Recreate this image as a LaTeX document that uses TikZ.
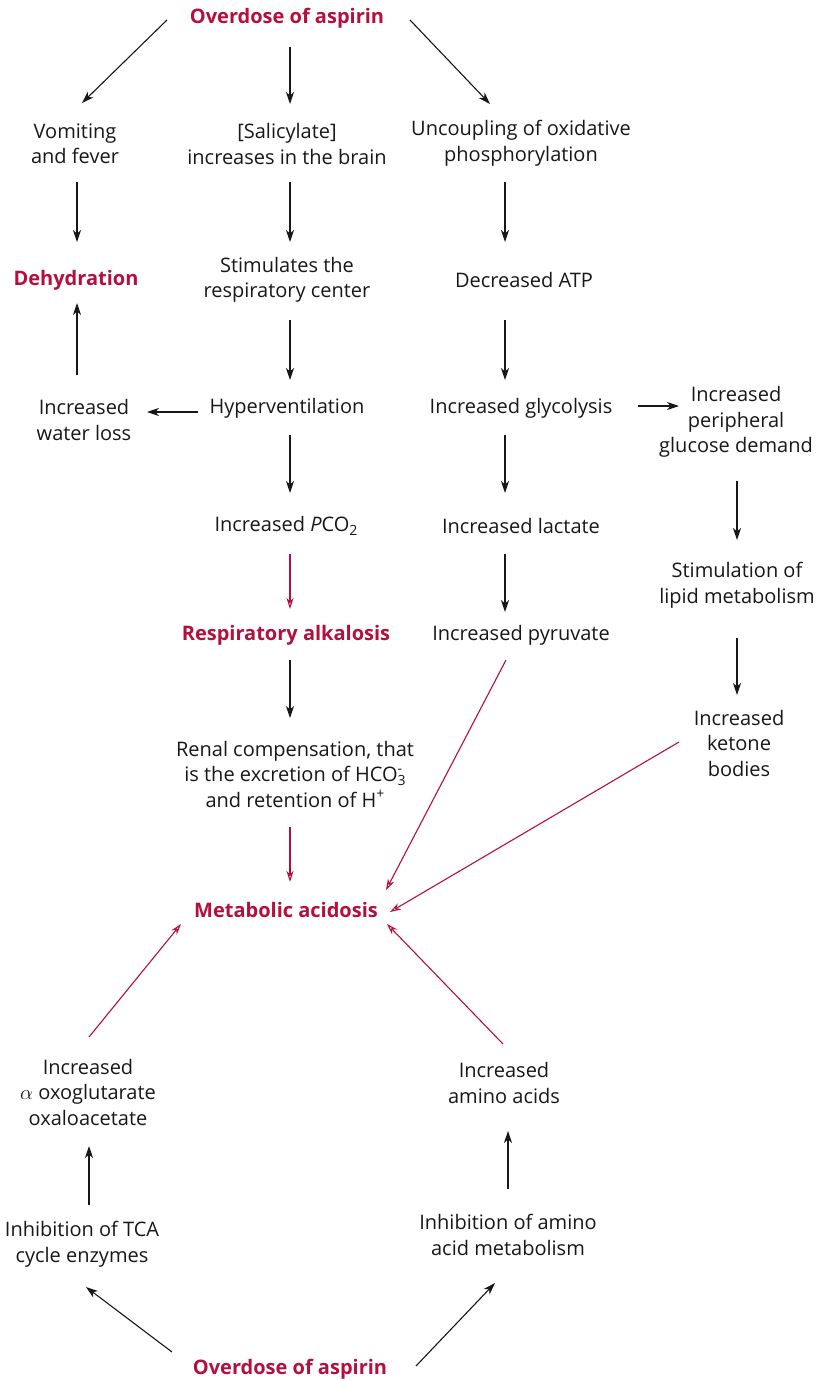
\documentclass[tikz,border=0pt]{standalone}
\usepackage{fontspec}
\setmainfont{Open Sans}
\usetikzlibrary{arrows.meta}
\definecolor{crim}{HTML}{B3103F}
\definecolor{ink}{HTML}{1A1718}
\newcommand\lo[1]{\raisebox{-0.35ex}{\fontsize{14}{14}\selectfont #1}}
\newcommand\hi[1]{\raisebox{0.75ex}{\fontsize{14}{14}\selectfont #1}}
\begin{document}
\begin{tikzpicture}[x=1pt,y=-1pt,
  txt/.style={text=ink,align=center,inner sep=0pt,font=\fontsize{20}{25.5}\selectfont},
  key/.style={text=crim,align=center,inner sep=0pt,font=\fontsize{20}{25.5}\selectfont\bfseries},
  blk/.style={draw=ink,line width=1.1pt,-{Stealth[length=12pt,width=8pt,inset=3.5pt]}},
  rd/.style={draw=crim,line width=1.1pt,-{Stealth[open,length=11pt,width=7pt,inset=3.5pt]}}]
\fill[white] (0,0) rectangle (827,1381);
\useasboundingbox (0,0) rectangle (827,1381);
% nodes
\node[key] (top) at (287,18) {Overdose of aspirin};
\node[txt] (vom) at (75,144) {Vomiting\\and fever};
\node[txt] (sal) at (287,144) {[Salicylate]\\increases in the brain};
\node[txt] (unc) at (521,143) {Uncoupling of oxidative\\phosphorylation};
\node[key] (deh) at (76,280) {Dehydration};
\node[txt] (sti) at (287,280) {Stimulates the\\respiratory center};
\node[txt] (atp) at (524,280) {Decreased ATP};
\node[txt] (wat) at (84,420) {Increased\\water loss};
\node[txt] (hyp) at (287,408) {Hyperventilation};
\node[txt] (gly) at (521,408) {Increased glycolysis};
\node[txt] (per) at (736,422) {Increased\\peripheral\\glucose demand};
\node[txt] (pco) at (286,526) {Increased \textit{P}CO\lo{2}};
\node[txt] (lac) at (521,526) {Increased lactate};
\node[txt] (lip) at (737,585) {Stimulation of\\lipid metabolism};
\node[key] (res) at (286,635) {Respiratory alkalosis};
\node[txt] (pyr) at (521,635) {Increased pyruvate};
\node[txt] (ket) at (739,743) {Increased\\ketone\\bodies};
\node[txt] (ren) at (295,774) {Renal compensation, that\\is the excretion of HCO\rlap{\hi{-}}\lo{3}\\and retention of H\hi{+}};
\node[key] (met) at (286,910) {Metabolic acidosis};
\node[txt] (alp) at (88,1092) {Increased\\$\alpha$ oxoglutarate\\oxaloacetate};
\node[txt] (ami) at (504,1083) {Increased\\amino acids};
\node[txt] (tca) at (82,1244) {Inhibition of TCA\\cycle enzymes};
\node[txt] (inh) at (508,1235) {Inhibition of amino\\acid metabolism};
\node[key] (bot) at (290,1369) {Overdose of aspirin};
% black arrows
\draw[blk] ([shift={(-120,2)}]top.center) -- ([shift={(7,-41)}]vom.center);
\draw[blk] ([shift={(3,29)}]top.center) -- ([shift={(3,-40)}]sal.center);
\draw[blk] ([shift={(123,2)}]top.center) -- ([shift={(-31,-39)}]unc.center);
\draw[blk] ([shift={(2,38)}]vom.center) -- ([shift={(1,-38)}]deh.center);
\draw[blk] ([shift={(3,38)}]sal.center) -- ([shift={(3,-38)}]sti.center);
\draw[blk] ([shift={(-16,39)}]unc.center) -- ([shift={(-19,-38)}]atp.center);
\draw[blk] ([shift={(-7,-45)}]wat.center) -- ([shift={(1,23)}]deh.center);
\draw[blk] ([shift={(3,40)}]sti.center) -- ([shift={(3,-28)}]hyp.center);
\draw[blk] ([shift={(-19,40)}]atp.center) -- ([shift={(-16,-28)}]gly.center);
\draw[blk] ([shift={(-89,4)}]hyp.center) -- ([shift={(63,-8)}]wat.center);
\draw[blk] ([shift={(117,-2)}]gly.center) -- ([shift={(-57,-16)}]per.center);
\draw[blk] ([shift={(3,27)}]hyp.center) -- ([shift={(4,-33)}]pco.center);
\draw[blk] ([shift={(-16,27)}]gly.center) -- ([shift={(-16,-33)}]lac.center);
\draw[blk] ([shift={(1,59)}]per.center) -- ([shift={(0,-45)}]lip.center);
\draw[blk] ([shift={(-16,28)}]lac.center) -- ([shift={(-16,-23)}]pyr.center);
\draw[blk] ([shift={(0,53)}]lip.center) -- ([shift={(-2,-48)}]ket.center);
\draw[blk] ([shift={(4,25)}]res.center) -- ([shift={(-5,-56)}]ren.center);
\draw[blk] ([shift={(7,-39)}]tca.center) -- ([shift={(1,54)}]alp.center);
\draw[blk] ([shift={(0,-46)}]inh.center) -- ([shift={(4,48)}]ami.center);
\draw[blk] ([shift={(-118,-17)}]bot.center) -- ([shift={(4,43)}]tca.center);
\draw[blk] ([shift={(126,-3)}]bot.center) -- ([shift={(-13,48)}]inh.center);
% red arrows
\draw[rd] ([shift={(4,28)}]pco.center) -- ([shift={(4,-26)}]res.center);
\draw[rd] ([shift={(-5,53)}]ren.center) -- ([shift={(4,-28)}]met.center);
\draw[rd] ([shift={(-15,25)}]pyr.center) -- ([shift={(100,-20)}]met.center);
\draw[rd] ([shift={(-60,-1)}]ket.center) -- ([shift={(104,2)}]met.center);
\draw[rd] ([shift={(1,-55)}]alp.center) -- ([shift={(-105,14)}]met.center);
\draw[rd] ([shift={(-1,-39)}]ami.center) -- ([shift={(101,14)}]met.center);
\end{tikzpicture}
\end{document}
